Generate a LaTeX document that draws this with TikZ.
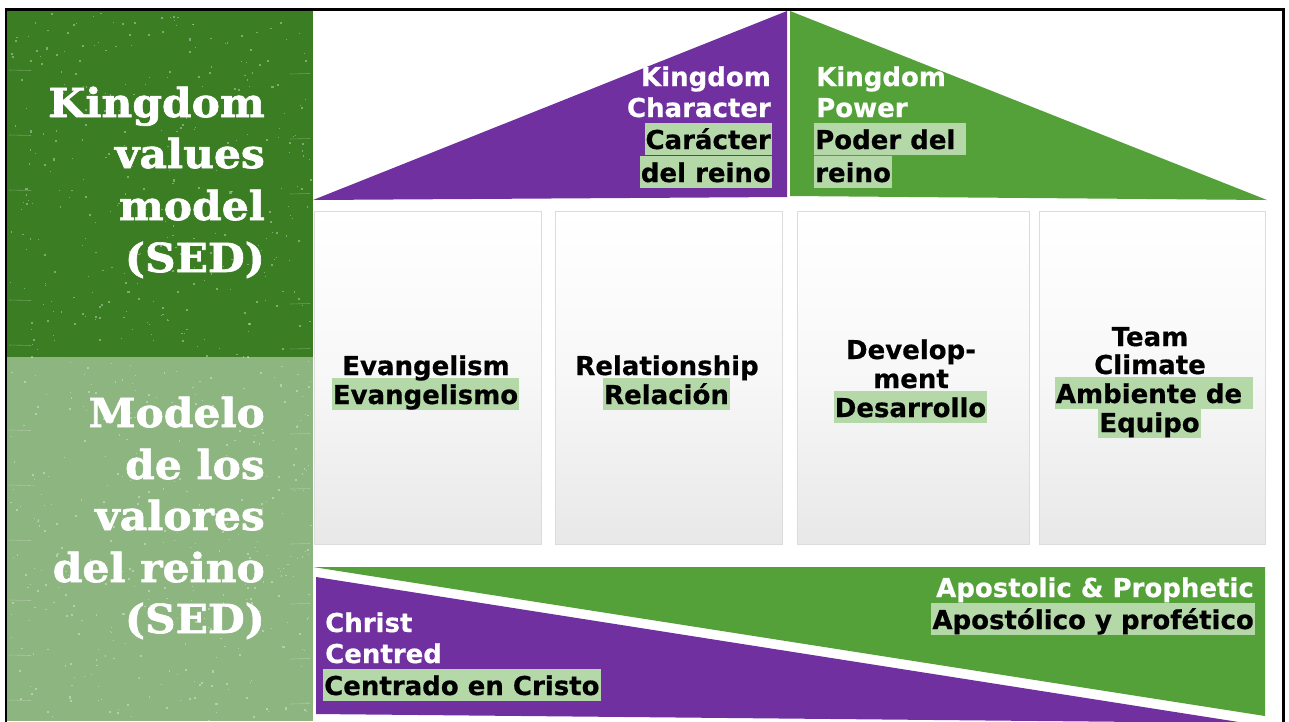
\documentclass[tikz,border=0pt]{standalone}
\usepackage{fontspec}
\newfontfamily\dvs[BoldFeatures={FakeBold=0.6}]{DejaVu Sans}
\newfontfamily\dvserif[BoldFeatures={FakeBold=1.6,FakeStretch=1.06}]{DejaVu Serif}
\definecolor{kpurple}{HTML}{7030A0}
\definecolor{kgreen}{HTML}{54A13A}
\definecolor{hlgreen}{HTML}{B5D8A9}
\definecolor{darkpanel}{HTML}{3A7D23}
\definecolor{lightpanel}{HTML}{8DB580}
\definecolor{pillarline}{HTML}{DCDCDC}
\tikzset{
  txt/.style={font=\dvs\bfseries\fontsize{26}{32}\selectfont, inner xsep=1pt, inner ysep=0pt, text height=26pt, text depth=6pt},
  wtxt/.style={txt, text=white},
  btxt/.style={txt, text=black},
  hl/.style={txt, text=black, fill=hlgreen},
  side/.style={font=\dvserif\bfseries\fontsize{40}{52}\selectfont, text=white, inner sep=0pt, anchor=base east},
  pillar/.style={draw=pillarline, line width=1pt, top color=white, bottom color=black!9, middle color=black!3},
  speck/.style={fill=white, opacity=0.35},
}
\begin{document}
\begin{tikzpicture}[x=1pt,y=-1pt]
\useasboundingbox (0,0) rectangle (1289,721);
\fill[white] (0,0) rectangle (1289,721);
% left panels
\fill[darkpanel] (7,11) rectangle (313,357);
\fill[lightpanel] (7,357) rectangle (313,721);
% texture
\pgfmathsetseed{42}
\foreach \i in {1,...,700}{
  \pgfmathsetmacro{\xx}{9+rnd*302}
  \pgfmathsetmacro{\yy}{12+rnd*708}
  \pgfmathsetmacro{\ww}{0.6+rnd*1.6}
  \fill[speck] (\xx,\yy) rectangle ++(\ww,\ww);
}
\foreach \yy in {70,135,190,300,345,430,485,540,600,655,700}{
  \draw[white, opacity=0.25, line width=0.6pt] (9,\yy) -- ++(22,0.5);
  \draw[white, opacity=0.25, line width=0.6pt] (290,\yy+4) -- ++(20,-0.5);
}
% roof
\fill[kpurple] (313,200) -- (787,11) -- (787,197) -- cycle;
\fill[kgreen] (790,11) -- (1267,200) -- (790,196) -- cycle;
% pillars
\path[pillar] (314,211) rectangle (541,544);
\path[pillar] (555,211) rectangle (782,544);
\path[pillar] (797,211) rectangle (1029,544);
\path[pillar] (1039,211) rectangle (1265,544);
% base
\fill[kgreen] (313,567) -- (1265,567) -- (1265,716) -- cycle;
\fill[kpurple] (316,577) -- (1245,723) -- (316,714) -- cycle;
% frame
\draw[line width=2.5pt] (6,722) -- (6,9.5) -- (1283.5,9.5) -- (1283.5,722);
% side titles
\node[side] (s1) at (265,117) {Kingdom};
\node[side] (s2) at (265,168) {values};
\node[side] (s3) at (265,220) {model};
\node[side] (s4) at (265,272) {(SED)};
\node[side] (t1) at (265,427) {Modelo};
\node[side] (t2) at (265,479) {de los};
\node[side] (t3) at (265,530) {valores};
\node[side] (t4) at (265,582) {del reino};
\node[side] (t5) at (265,633) {(SED)};
% highlighted lines first
\node[hl, anchor=base east] (rc3) at (772,149) {Carácter};
\node[hl, anchor=base east] (rc4) at (772,182) {del reino};
\node[hl, anchor=base west] (rp3) at (814,149) {Poder del\kern10pt};
\node[hl, anchor=base west] (rp4) at (814,182) {reino};
\node[hl, anchor=base] (p1b) at (425.5,404) {Evangelismo};
\node[hl, anchor=base] (p2b) at (666.5,404) {Relación};
\node[hl, anchor=base] (p3c) at (910.5,417) {Desarrollo};
\node[hl, anchor=base] (p4c) at (1154,403) {Ambiente de\kern10pt};
\node[hl, anchor=base] (p4d) at (1149.5,432) {Equipo};
\node[hl, anchor=base west] (b3) at (323,695) {Centrado en Cristo};
\node[hl, anchor=base east] (a2) at (1255,629) {Apostólico y profético};
% plain lines
\node[wtxt, anchor=base east] (rc1) at (772,86) {Kingdom};
\node[wtxt, anchor=base east] (rc2) at (772,117) {Character};
\node[wtxt, anchor=base west] (rp1) at (815,86) {Kingdom};
\node[wtxt, anchor=base west] (rp2) at (815,117) {Power};
\node[btxt, anchor=base] (p1a) at (426,375) {Evangelism};
\node[btxt, anchor=base] (p2a) at (667,375) {Relationship};
\node[btxt, anchor=base] (p3a) at (911,359) {Develop-};
\node[btxt, anchor=base] (p3b) at (911,388) {ment};
\node[btxt, anchor=base] (p4a) at (1150,346) {Team};
\node[btxt, anchor=base] (p4b) at (1150,374) {Climate};
\node[wtxt, anchor=base west] (b1) at (324,632) {Christ};
\node[wtxt, anchor=base west] (b2) at (324,663) {Centred};
\node[wtxt, anchor=base east] (a1) at (1255,597) {Apostolic \& Prophetic};
\end{tikzpicture}
\end{document}
